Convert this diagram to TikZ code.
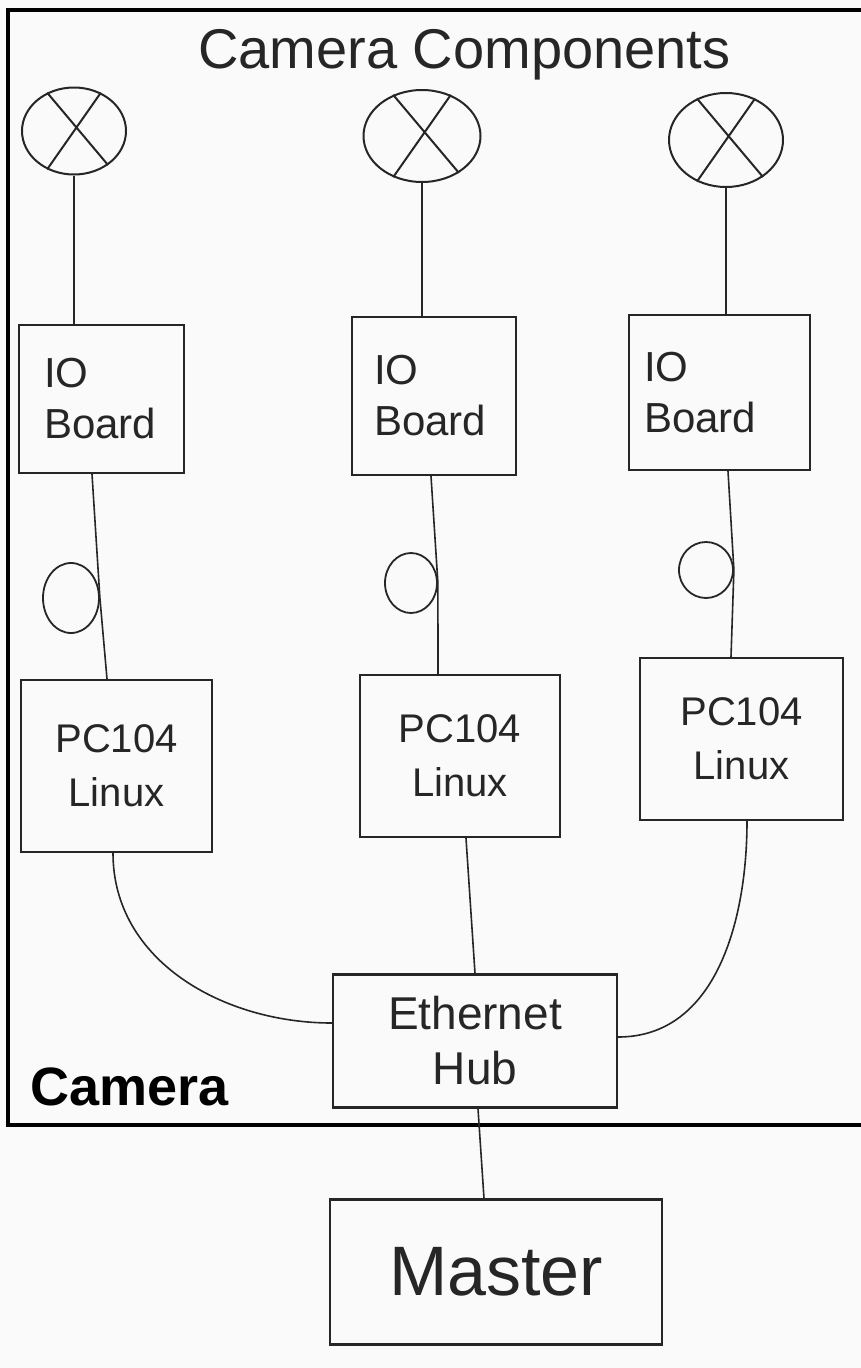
\documentclass[tikz,border=0pt]{standalone}
\usepackage{fontspec}
\setmainfont{Liberation Sans}
\usetikzlibrary{shapes.geometric}
\definecolor{paper}{HTML}{FAFAFA}
\definecolor{ink}{HTML}{262626}
\begin{document}
\begin{tikzpicture}[x=1pt,y=-1pt,
  box/.style={draw=ink,line width=2.3pt,rectangle,inner sep=0pt,text=ink},
  ioboard/.style={box,align=left,font=\fontsize{42}{51}\selectfont},
  pcbox/.style={box,align=center,font=\fontsize{40}{54}\selectfont},
  lamp/.style={draw=ink,line width=2pt,ellipse,inner sep=0pt},
  coil/.style={draw=ink,line width=1.8pt,ellipse,inner sep=0pt},
  wire/.style={draw=ink,line width=1.6pt}]
\fill[paper] (0,0) rectangle (861,1368);
\useasboundingbox (0,0) rectangle (861,1368);
% camera frame
\draw[line width=3.5pt] (861,10) -- (8,10) -- (8,1125) -- (861,1125);
\node[text=ink,font=\fontsize{56}{60}\selectfont,anchor=base west,inner sep=0pt] (title) at (198,68) {Camera Components};
\node[font=\bfseries\fontsize{54}{60}\selectfont,anchor=base west,inner sep=0pt] (camlbl) at (30,1105) {Camera};
% lamps
\node[lamp,minimum width=104pt,minimum height=87pt] (L1) at (74,131) {};
\node[lamp,minimum width=117pt,minimum height=92pt] (L2) at (422,136) {};
\node[lamp,minimum width=114pt,minimum height=94pt] (L3) at (726,140) {};
\foreach \n in {L1,L2,L3} \draw[wire,line width=2pt] (\n.125) -- (\n.-45) (\n.55) -- (\n.-125);
% IO boards
\node[ioboard,minimum width=165pt,minimum height=148pt,inner xsep=25pt,text width=115pt] (IO1) at (101.5,399) {IO\\Board};
\node[ioboard,minimum width=164pt,minimum height=158pt,inner xsep=22pt,text width=120pt] (IO2) at (434,396) {IO\\Board};
\node[ioboard,minimum width=181pt,minimum height=155pt,inner xsep=15pt,text width=151pt] (IO3) at (719.5,392.5) {IO\\Board};
% coils
\node[coil,minimum width=56pt,minimum height=70pt] (C1) at (71,598) {};
\node[coil,minimum width=52pt,minimum height=60pt] (C2) at (411,583) {};
\node[coil,minimum width=54pt,minimum height=56pt] (C3) at (706,570) {};
% PC104
\node[pcbox,minimum width=191pt,minimum height=172pt] (PC1) at (116.5,766) {PC104\\Linux};
\node[pcbox,minimum width=200pt,minimum height=162pt] (PC2) at (460,756) {PC104\\Linux};
\node[pcbox,minimum width=203pt,minimum height=162pt] (PC3) at (741.5,739) {PC104\\Linux};
% hub and master
\node[box,align=center,font=\fontsize{46}{55}\selectfont,minimum width=284pt,minimum height=133pt] (Hub) at (475,1041) {Ethernet\\Hub};
\node[box,font=\fontsize{70}{80}\selectfont,minimum width=332pt,minimum height=145pt] (Master) at (496,1272) {Master};
% wires
\draw[wire] (L1.south) -- (L1.south |- IO1.north);
\draw[wire] (L2.south) -- (L2.south |- IO2.north);
\draw[wire] (L3.south) -- (L3.south |- IO3.north);
\draw[wire] ([xshift=-9.5pt]IO1.south) -- (C1.east) -- ([xshift=-9.5pt]PC1.north);
\draw[wire] ([xshift=-3pt]IO2.south) -- (C2.east) -- ([xshift=-22pt]PC2.north);
\draw[wire] ([xshift=8.5pt]IO3.south) -- (C3.east) -- ([xshift=-10.5pt]PC3.north);
\draw[wire] ([xshift=-3.5pt]PC1.south) to[out=-90,in=180] ([yshift=18pt]Hub.west);
\draw[wire] ([xshift=6pt]PC2.south) -- (Hub.north);
\draw[wire] ([xshift=5.5pt]PC3.south) to[out=-90,in=0] ([yshift=4pt]Hub.east);
\draw[wire] ([xshift=3pt]Hub.south) -- ([xshift=-12pt]Master.north);
\end{tikzpicture}
\end{document}
